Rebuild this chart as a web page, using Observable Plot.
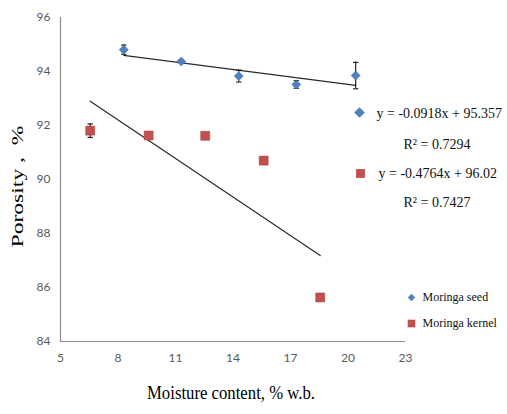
<!DOCTYPE html>
<html>
<head>
<meta charset="utf-8">
<script src="https://cdn.jsdelivr.net/npm/d3@7"></script>
<script src="https://cdn.jsdelivr.net/npm/@observablehq/plot@0.6"></script>
<style>
  html, body { margin: 0; padding: 0; background: #fff; }
</style>
</head>
<body>
<div id="chart"></div>
<script>
// Porosity of Moringa seed and kernel against moisture content
const seriesNames = ["Moringa seed", "Moringa kernel"];
const seriesColors = ["#4F81BD", "#C0504D"];

const seedMoisture = [8.3, 11.3, 14.3, 17.3, 20.4];
const seedPorosity = [94.81, 94.37, 93.83, 93.52, 93.85];
const seedError = [0.17, 0.06, 0.22, 0.14, 0.49];

const kernelMoisture = [6.55, 9.6, 12.55, 15.6, 18.55];
const kernelPorosity = [91.81, 91.63, 91.62, 90.7, 85.63];
const kernelError = [0.25, 0.05, 0.05, 0.05, 0.05];

// Linear fits (seed, kernel)
const fitSlopes = [-0.0918, -0.4764];
const fitIntercepts = [95.357, 96.02];
const fitR2 = ["0.7294", "0.7427"];

const xTicks = [5, 8, 11, 14, 17, 20, 23];
const yTicks = [84, 86, 88, 90, 92, 94, 96];

const yTitle = "Porosity ,\u00a0\u00a0%";
const xTitle = "Moisture content, % w.b.";

// Build point tables
const seriesX = [seedMoisture, kernelMoisture];
const seriesY = [seedPorosity, kernelPorosity];
const seriesE = [seedError, kernelError];
const points = seriesNames.flatMap((name, s) =>
  seriesX[s].map((x, i) => ({
    series: name, idx: s, x, y: seriesY[s][i],
    lo: seriesY[s][i] - seriesE[s][i], hi: seriesY[s][i] + seriesE[s][i]
  }))
);
const caps = points.flatMap(p => [{x: p.x, y: p.lo}, {x: p.x, y: p.hi}]);

// Trend line endpoints over each series' moisture range
const fitLines = seriesNames.flatMap((name, s) => {
  const [x0, x1] = d3.extent(seriesX[s]);
  return [x0, x1].map(x => ({series: name, x, y: fitSlopes[s] * x + fitIntercepts[s]}));
});

const equations = seriesNames.map((name, s) => `y = ${fitSlopes[s]}x + ${fitIntercepts[s]}`);
const r2Labels = fitR2.map(v => `R² = ${v}`);

// Short horizontal stroke used for error-bar caps
const capSymbol = {
  draw(ctx, size) {
    const w = Math.sqrt(size);
    ctx.moveTo(-w, 0);
    ctx.lineTo(w, 0);
  }
};

const serif = "'Liberation Serif', 'Times New Roman', serif";
const sans = "Lato, 'Open Sans', sans-serif";

const chart = Plot.plot({
  width: 507,
  height: 414,
  marginLeft: 60,
  marginRight: 102,
  marginTop: 17,
  marginBottom: 73,
  style: {background: "#fff", fontFamily: sans},
  x: {domain: [5, 23]},
  y: {domain: [84, 96]},
  marks: [
    Plot.ruleX([5], {stroke: "#8c8c8c", strokeWidth: 1.2}),
    Plot.ruleY([84], {stroke: "#8c8c8c", strokeWidth: 1.2}),
    Plot.axisX({ticks: xTicks, tickSize: 0, tickPadding: 12, label: null, fontSize: 12, fill: "#595959"}),
    Plot.axisY({ticks: yTicks, tickSize: 0, tickPadding: 10, label: null, fontSize: 12, fill: "#595959"}),

    // Linear trend lines
    Plot.line(fitLines, {x: "x", y: "y", z: "series", stroke: "#2a2a2a", strokeWidth: 1.2}),

    // Error bars
    Plot.ruleX(points, {x: "x", y1: "lo", y2: "hi", stroke: "#111", strokeWidth: 1.1}),
    Plot.dot(caps, {x: "x", y: "y", symbol: capSymbol, r: 1.5, stroke: "#111", strokeWidth: 1.1, fill: "none"}),

    // Data markers
    Plot.dot(points.filter(p => p.idx === 0), {x: "x", y: "y", symbol: "diamond2", r: 4.1, fill: seriesColors[0], stroke: "#3f6ea6", strokeWidth: 0.5}),
    Plot.dot(points.filter(p => p.idx === 1), {x: "x", y: "y", symbol: "square", r: 5.1, fill: seriesColors[1], stroke: "#a8403d", strokeWidth: 0.5}),

    // Fit equations
    Plot.dot([0], {frameAnchor: "top-left", dx: 299, dy: 95, symbol: "diamond2", r: 4.8, fill: seriesColors[0]}),
    Plot.text([equations[0]], {frameAnchor: "top-left", dx: 316, dy: 96, textAnchor: "start", lineAnchor: "middle", fontFamily: serif, fontSize: 14, fill: "#111"}),
    Plot.text([r2Labels[0]], {frameAnchor: "top-left", dx: 343, dy: 127, textAnchor: "start", lineAnchor: "middle", fontFamily: serif, fontSize: 14, fill: "#111"}),
    Plot.dot([0], {frameAnchor: "top-left", dx: 300, dy: 156, symbol: "square", r: 5, fill: seriesColors[1]}),
    Plot.text([equations[1]], {frameAnchor: "top-left", dx: 318, dy: 156, textAnchor: "start", lineAnchor: "middle", fontFamily: serif, fontSize: 14, fill: "#111"}),
    Plot.text([r2Labels[1]], {frameAnchor: "top-left", dx: 343, dy: 185, textAnchor: "start", lineAnchor: "middle", fontFamily: serif, fontSize: 14, fill: "#111"}),

    // Series legend
    Plot.dot([0], {frameAnchor: "top-left", dx: 351, dy: 280, symbol: "diamond2", r: 3.3, fill: seriesColors[0]}),
    Plot.text([seriesNames[0]], {frameAnchor: "top-left", dx: 362, dy: 280, textAnchor: "start", lineAnchor: "middle", fontFamily: serif, fontSize: 12, fill: "#111"}),
    Plot.dot([0], {frameAnchor: "top-left", dx: 351, dy: 306, symbol: "square", r: 4.3, fill: seriesColors[1]}),
    Plot.text([seriesNames[1]], {frameAnchor: "top-left", dx: 362, dy: 306, textAnchor: "start", lineAnchor: "middle", fontFamily: serif, fontSize: 12, fill: "#111"}),

    // Axis titles
    Plot.text([yTitle], {frameAnchor: "left", dx: -43, dy: 7, rotate: -90, textAnchor: "middle", lineAnchor: "middle", fontFamily: serif, fontSize: 16, fill: "#000"}),
    Plot.text([xTitle], {frameAnchor: "bottom", dx: -2, dy: 51, textAnchor: "middle", lineAnchor: "middle", fontFamily: serif, fontSize: 19, fill: "#000"})
  ]
});

// Tall, narrow lettering for the axis titles
d3.select(chart).selectAll("text")
  .filter(function () { return this.textContent === yTitle; })
  .attr("textLength", 122).attr("lengthAdjust", "spacingAndGlyphs");
d3.select(chart).selectAll("text")
  .filter(function () { return this.textContent === xTitle; })
  .attr("textLength", 168).attr("lengthAdjust", "spacingAndGlyphs");

document.getElementById("chart").appendChild(chart);
</script>
</body>
</html>
